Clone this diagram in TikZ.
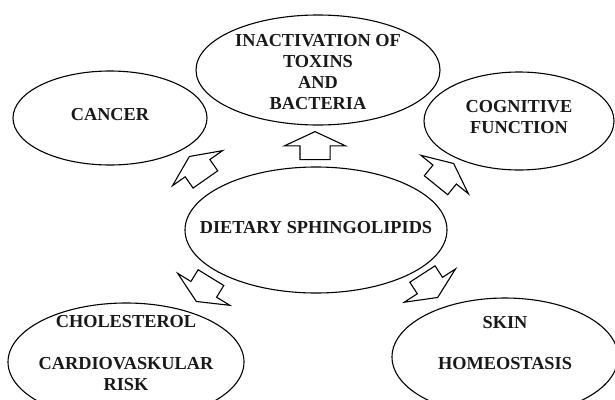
\documentclass[tikz,border=0pt]{standalone}
\usepackage{fontspec}
\setmainfont{Liberation Serif}
\usepackage{tikz}
\usetikzlibrary{shapes.geometric, shapes.arrows}

\tikzset{
    bubble/.style={draw, ellipse, line width=1.1pt, inner sep=0pt},
    caption/.style={align=center, text=black!90, font=\fontsize{18.3}{20.7}\selectfont\bfseries},
    blockarrow/.style={draw, single arrow, fill=white, line width=1.1pt,
        inner xsep=0pt, inner ysep=14.5pt, minimum height=28pt,
        single arrow head extend=15.5pt, single arrow tip angle=130, anchor=tip},
}

\begin{document}
\begin{tikzpicture}[x=1pt, y=-1pt]
    \useasboundingbox (0, 0) rectangle (615, 399);

    % centro
    \node[bubble, minimum width=262, minimum height=126,
        label={[caption, yshift=2pt]center:DIETARY SPHINGOLIPIDS}] (diet) at (316, 230) {};

    % efeitos
    \node[bubble, minimum width=244, minimum height=110,
        label={[caption, yshift=-2pt]center:{INACTIVATION OF\\TOXINS\\AND\\BACTERIA}}] (toxins) at (318, 70) {};
    \node[bubble, minimum width=194, minimum height=94,
        label={[caption, yshift=3pt]center:CANCER}] (cancer) at (110, 118) {};
    \node[bubble, minimum width=190, minimum height=98,
        label={[caption, yshift=4pt]center:{COGNITIVE\\FUNCTION}}] (cognitive) at (519, 121) {};
    \node[bubble, minimum width=236, minimum height=118,
        label={[caption, yshift=9pt]center:{CHOLESTEROL\\[20.7pt]CARDIOVASKULAR\\RISK}}] (cardio) at (126, 362) {};
    \node[bubble, minimum width=226, minimum height=118,
        label={[caption, yshift=14pt]center:{SKIN\\[20.7pt]HOMEOSTASIS}}] (skin) at (505, 357) {};

    % setas
    \node[blockarrow, rotate=90] (toToxins) at (315, 131) {};
    \node[blockarrow, rotate=125] (toCancer) at (189, 156) {};
    \node[blockarrow, rotate=51] (toCognitive) at (454, 163) {};
    \node[blockarrow, rotate=238.5] (toCardio) at (196, 302) {};
    \node[blockarrow, rotate=303] (toSkin) at (438, 298) {};

\end{tikzpicture}
\end{document}
